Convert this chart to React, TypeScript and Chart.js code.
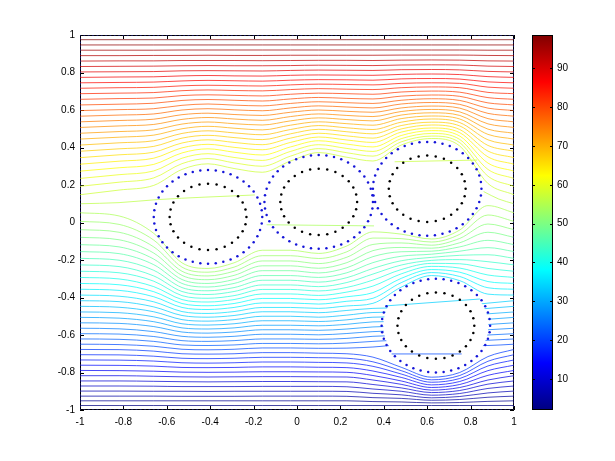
import React, { useEffect, useRef } from "react";
import { Chart, registerables } from "chart.js";
Chart.register(...registerables);

const FONT = '"Liberation Sans", Arial, Helvetica, sans-serif';

// x positions (data units) at which every streamline is sampled
const xColumns = [-1, -0.82, -0.66, -0.53, -0.41, -0.29, -0.16, -0.03, 0.1, 0.23, 0.35, 0.48, 0.62, 0.75, 0.88, 1];

// streamlines passing above the cylinders (top to bottom)
const upperLines = [
  [0.975,0.975,0.975,0.975,0.975,0.975,0.975,0.975,0.975,0.975,0.975,0.975,0.975,0.975,0.975,0.975],
  [0.947,0.947,0.947,0.947,0.947,0.947,0.947,0.947,0.947,0.947,0.947,0.947,0.947,0.947,0.947,0.947],
  [0.919,0.919,0.919,0.920,0.920,0.920,0.920,0.920,0.920,0.920,0.920,0.920,0.920,0.920,0.919,0.919],
  [0.890,0.890,0.891,0.891,0.892,0.891,0.891,0.892,0.892,0.892,0.892,0.893,0.893,0.893,0.891,0.890],
  [0.861,0.862,0.862,0.864,0.864,0.864,0.863,0.864,0.865,0.865,0.864,0.866,0.867,0.866,0.862,0.861],
  [0.832,0.833,0.834,0.836,0.837,0.836,0.836,0.837,0.839,0.838,0.837,0.840,0.841,0.840,0.834,0.832],
  [0.803,0.804,0.805,0.809,0.810,0.809,0.808,0.811,0.813,0.812,0.811,0.815,0.816,0.814,0.806,0.803],
  [0.774,0.776,0.777,0.782,0.784,0.782,0.781,0.785,0.787,0.786,0.785,0.790,0.792,0.789,0.778,0.774],
  [0.745,0.747,0.749,0.755,0.758,0.756,0.754,0.759,0.762,0.761,0.759,0.766,0.768,0.765,0.750,0.745],
  [0.716,0.719,0.721,0.729,0.732,0.730,0.728,0.734,0.738,0.736,0.734,0.742,0.745,0.742,0.722,0.716],
  [0.687,0.690,0.693,0.703,0.707,0.704,0.702,0.709,0.714,0.711,0.709,0.719,0.723,0.719,0.694,0.687],
  [0.657,0.661,0.664,0.677,0.681,0.678,0.675,0.684,0.690,0.687,0.684,0.696,0.701,0.695,0.666,0.657],
  [0.627,0.631,0.636,0.651,0.656,0.652,0.648,0.659,0.667,0.662,0.659,0.674,0.680,0.673,0.638,0.627],
  [0.597,0.602,0.607,0.625,0.632,0.626,0.622,0.635,0.644,0.639,0.635,0.652,0.660,0.651,0.610,0.597],
  [0.567,0.573,0.579,0.600,0.607,0.601,0.596,0.611,0.622,0.616,0.611,0.632,0.640,0.630,0.582,0.567],
  [0.537,0.544,0.551,0.575,0.583,0.576,0.571,0.588,0.600,0.593,0.588,0.611,0.621,0.610,0.554,0.537],
  [0.507,0.515,0.523,0.550,0.560,0.552,0.545,0.565,0.579,0.571,0.565,0.592,0.603,0.590,0.526,0.507],
  [0.476,0.485,0.494,0.525,0.536,0.527,0.520,0.542,0.558,0.549,0.542,0.573,0.585,0.571,0.498,0.476],
  [0.445,0.455,0.466,0.500,0.513,0.503,0.494,0.519,0.537,0.527,0.519,0.554,0.568,0.552,0.470,0.445],
  [0.413,0.425,0.436,0.475,0.489,0.478,0.468,0.496,0.517,0.505,0.496,0.535,0.552,0.533,0.441,0.413],
  [0.380,0.393,0.406,0.450,0.465,0.453,0.442,0.473,0.497,0.484,0.473,0.517,0.535,0.515,0.411,0.380],
  [0.346,0.361,0.375,0.424,0.441,0.427,0.415,0.450,0.476,0.462,0.450,0.499,0.520,0.496,0.381,0.346],
  [0.311,0.327,0.343,0.398,0.417,0.401,0.388,0.427,0.456,0.440,0.427,0.482,0.504,0.479,0.350,0.311],
  [0.274,0.292,0.310,0.371,0.393,0.375,0.360,0.403,0.436,0.418,0.403,0.464,0.490,0.461,0.317,0.274],
  [0.235,0.255,0.275,0.343,0.367,0.347,0.331,0.379,0.415,0.395,0.379,0.447,0.475,0.443,0.283,0.235],
  [0.193,0.215,0.238,0.314,0.341,0.318,0.300,0.354,0.394,0.372,0.354,0.430,0.461,0.426,0.247,0.193],
  [0.148,0.173,0.198,0.283,0.313,0.288,0.268,0.328,0.373,0.348,0.328,0.413,0.448,0.408,0.208,0.148],
];
const upperLevels = [98.6,97.0,95.4,93.9,92.3,90.7,89.1,87.5,86.0,84.4,82.8,81.2,79.6,78.0,76.5,74.9,73.3,71.7,70.1,68.5,67.0,65.4,63.8,62.2,60.6,59.0,57.5];

// dividing streamline: runs into the first cylinder, reappears behind the last one
const dividerX = [-1, -0.82, -0.645, -0.194];
const dividerY = [0.100, 0.106, 0.122, 0.147];
const wakeX = [0.86, 0.93, 1];
const wakeY = [0.165, 0.125, 0.100];
const dividerLevel = 55.9;

// streamlines passing below the upper cylinders (top to bottom)
const lowerLines = [
  [0.052,0.035,-0.058,-0.215,-0.245,-0.215,-0.148,-0.148,-0.165,-0.125,-0.050,-0.062,-0.088,-0.040,0.090,0.052],
  [0.006,-0.010,-0.094,-0.238,-0.265,-0.238,-0.177,-0.177,-0.192,-0.156,-0.083,-0.086,-0.104,-0.063,0.040,0.006],
  [-0.038,-0.052,-0.130,-0.260,-0.285,-0.260,-0.205,-0.205,-0.219,-0.185,-0.117,-0.109,-0.121,-0.085,-0.008,-0.038],
  [-0.079,-0.092,-0.163,-0.282,-0.305,-0.282,-0.231,-0.231,-0.244,-0.214,-0.150,-0.133,-0.137,-0.108,-0.052,-0.079],
  [-0.118,-0.130,-0.195,-0.304,-0.325,-0.304,-0.257,-0.257,-0.269,-0.241,-0.182,-0.156,-0.153,-0.130,-0.095,-0.118],
  [-0.155,-0.166,-0.225,-0.325,-0.344,-0.325,-0.283,-0.283,-0.293,-0.268,-0.214,-0.180,-0.169,-0.153,-0.134,-0.155],
  [-0.191,-0.201,-0.255,-0.347,-0.364,-0.347,-0.308,-0.308,-0.318,-0.294,-0.245,-0.204,-0.186,-0.175,-0.172,-0.191],
  [-0.226,-0.235,-0.285,-0.368,-0.384,-0.368,-0.333,-0.333,-0.342,-0.320,-0.275,-0.227,-0.202,-0.198,-0.209,-0.226],
  [-0.260,-0.268,-0.313,-0.390,-0.404,-0.390,-0.357,-0.357,-0.365,-0.346,-0.307,-0.251,-0.218,-0.220,-0.245,-0.260],
  [-0.293,-0.301,-0.342,-0.411,-0.424,-0.411,-0.381,-0.381,-0.389,-0.371,-0.339,-0.274,-0.234,-0.243,-0.280,-0.293],
  [-0.325,-0.332,-0.369,-0.432,-0.444,-0.432,-0.405,-0.405,-0.412,-0.396,-0.374,-0.298,-0.251,-0.265,-0.315,-0.325],
  [-0.356,-0.362,-0.396,-0.453,-0.464,-0.453,-0.429,-0.429,-0.435,-0.420,-0.404,-0.321,-0.267,-0.288,-0.348,-0.356],
  [-0.387,-0.393,-0.423,-0.475,-0.485,-0.475,-0.453,-0.453,-0.458,-0.445,-0.431,-0.345,-0.283,-0.310,-0.382,-0.387],
  [-0.417,-0.422,-0.450,-0.496,-0.505,-0.496,-0.476,-0.476,-0.481,-0.469,-0.458,-0.455,-0.450,-0.445,-0.430,-0.417],
  [-0.447,-0.452,-0.476,-0.518,-0.526,-0.518,-0.500,-0.500,-0.505,-0.494,-0.480,-0.478,-0.475,-0.470,-0.458,-0.447],
  [-0.477,-0.481,-0.503,-0.540,-0.547,-0.540,-0.524,-0.524,-0.528,-0.519,-0.505,-0.503,-0.500,-0.497,-0.487,-0.477],
  [-0.506,-0.510,-0.529,-0.562,-0.568,-0.562,-0.548,-0.548,-0.551,-0.543,-0.530,-0.528,-0.526,-0.524,-0.516,-0.506],
  [-0.535,-0.538,-0.555,-0.584,-0.590,-0.584,-0.572,-0.572,-0.575,-0.568,-0.557,-0.553,-0.552,-0.550,-0.544,-0.535],
  [-0.564,-0.567,-0.582,-0.607,-0.612,-0.607,-0.596,-0.596,-0.599,-0.592,-0.582,-0.578,-0.578,-0.577,-0.572,-0.564],
  [-0.593,-0.595,-0.608,-0.630,-0.634,-0.630,-0.621,-0.621,-0.623,-0.618,-0.607,-0.603,-0.604,-0.604,-0.600,-0.593],
  [-0.621,-0.623,-0.634,-0.653,-0.656,-0.653,-0.645,-0.645,-0.647,-0.643,-0.634,-0.628,-0.630,-0.630,-0.628,-0.621],
  [-0.649,-0.651,-0.660,-0.676,-0.679,-0.676,-0.669,-0.669,-0.671,-0.670,-0.664,-0.653,-0.656,-0.657,-0.656,-0.649],
  [-0.677,-0.678,-0.686,-0.700,-0.702,-0.700,-0.694,-0.694,-0.697,-0.700,-0.718,-0.772,-0.825,-0.800,-0.715,-0.677],
  [-0.705,-0.706,-0.713,-0.724,-0.726,-0.724,-0.719,-0.719,-0.721,-0.724,-0.743,-0.790,-0.839,-0.816,-0.740,-0.705],
  [-0.733,-0.734,-0.739,-0.748,-0.750,-0.748,-0.744,-0.744,-0.746,-0.749,-0.767,-0.808,-0.852,-0.832,-0.765,-0.733],
  [-0.761,-0.762,-0.766,-0.773,-0.774,-0.773,-0.770,-0.770,-0.772,-0.774,-0.792,-0.826,-0.866,-0.848,-0.790,-0.761],
  [-0.789,-0.790,-0.793,-0.798,-0.799,-0.798,-0.796,-0.796,-0.797,-0.799,-0.816,-0.845,-0.880,-0.864,-0.815,-0.789],
  [-0.817,-0.817,-0.820,-0.823,-0.824,-0.823,-0.822,-0.822,-0.823,-0.824,-0.840,-0.863,-0.894,-0.880,-0.840,-0.817],
  [-0.845,-0.845,-0.847,-0.849,-0.850,-0.849,-0.848,-0.848,-0.849,-0.850,-0.864,-0.882,-0.907,-0.896,-0.862,-0.845],
  [-0.872,-0.872,-0.873,-0.875,-0.875,-0.875,-0.874,-0.874,-0.874,-0.876,-0.888,-0.900,-0.921,-0.912,-0.885,-0.872],
  [-0.899,-0.899,-0.900,-0.900,-0.901,-0.900,-0.900,-0.900,-0.900,-0.901,-0.911,-0.919,-0.935,-0.928,-0.909,-0.899],
  [-0.926,-0.926,-0.926,-0.927,-0.927,-0.927,-0.926,-0.926,-0.926,-0.927,-0.934,-0.938,-0.948,-0.944,-0.932,-0.926],
  [-0.951,-0.951,-0.951,-0.951,-0.951,-0.951,-0.951,-0.951,-0.951,-0.951,-0.955,-0.957,-0.962,-0.960,-0.954,-0.951],
  [-0.976,-0.976,-0.976,-0.976,-0.976,-0.976,-0.976,-0.976,-0.976,-0.976,-0.976,-0.976,-0.976,-0.976,-0.976,-0.976],
];
const lowerLevels = [54.3,52.7,51.1,49.6,48.0,46.4,44.8,43.2,41.6,40.1,38.5,36.9,35.3,33.7,32.1,30.6,29.0,27.4,25.8,24.2,22.7,21.1,19.5,17.9,16.3,14.7,13.2,11.6,10.0,8.4,6.8,5.3,3.7,2.1];

// short contour pieces crossing the inside of the cylinders
const chordX = [[-0.14, 0.355], [0.45, 0.83], [0.406, 0.843], [0.436, 0.759]];
const chordY = [[-0.012, -0.018], [0.324, 0.333], [-0.445, -0.408], [-0.701, -0.701]];
const chordLevels = [54.0, 57.0, 33.7, 21.1];

// cylinders: centres, outer (blue) and inner (black) dotted rings
const cylinderX = [-0.41, 0.10, 0.60, 0.64];
const cylinderY = [0.03, 0.11, 0.18, -0.55];
const outerRadius = 0.25;
const innerRadius = 0.177;
const maskRadius = 0.242;
const outerDotCount = 44;
const innerDotCount = 28;
const boundaryDotCount = 101;

const axisTicks = [-1, -0.8, -0.6, -0.4, -0.2, 0, 0.2, 0.4, 0.6, 0.8, 1];
const colorbarTicks = [10, 20, 30, 40, 50, 60, 70, 80, 90];
const colorMin = 2.0;
const colorMax = 98.6;

function clamp01(v: number) {
  return Math.max(0, Math.min(1, v));
}
function jetRGB(t: number): [number, number, number] {
  const r = clamp01(1.5 - Math.abs(4 * t - 3));
  const g = clamp01(1.5 - Math.abs(4 * t - 2));
  const b = clamp01(1.5 - Math.abs(4 * t - 1));
  return [Math.round(r * 255), Math.round(g * 255), Math.round(b * 255)];
}
function levelColor(level: number, alpha: number) {
  const t = clamp01((level - colorMin) / (colorMax - colorMin));
  const [r, g, b] = jetRGB(t);
  return `rgba(${r},${g},${b},${alpha})`;
}

function ringPoints(cx: number, cy: number, r: number, n: number) {
  const pts: { x: number; y: number }[] = [];
  for (let i = 0; i < n; i++) {
    const a = (2 * Math.PI * i) / n;
    pts.push({ x: cx + r * Math.cos(a), y: cy + r * Math.sin(a) });
  }
  return pts;
}

const LINE_ALPHA = 0.72;

function streamDataset(xs: number[], ys: number[], level: number, order: number) {
  return {
    data: xs.map((x, i) => ({ x, y: ys[i] })),
    showLine: true,
    borderColor: levelColor(level, LINE_ALPHA),
    borderWidth: 1,
    pointRadius: 0,
    pointHoverRadius: 0,
    cubicInterpolationMode: "monotone" as const,
    fill: false,
    order,
  };
}

const frame = {
  id: "frame",
  beforeDatasetsDraw(chart: any) {
    chart.$maskDone = false;
    const { ctx, chartArea: a, scales } = chart;
    ctx.save();
    ctx.strokeStyle = "#000";
    ctx.lineWidth = 1;
    ctx.strokeRect(a.left + 0.5, a.top + 0.5, a.right - a.left - 1, a.bottom - a.top - 1);
    const len = 4;
    ctx.beginPath();
    for (const v of axisTicks) {
      const px = Math.round(scales.x.getPixelForValue(v)) + 0.5;
      ctx.moveTo(px, a.bottom);
      ctx.lineTo(px, a.bottom - len);
      ctx.moveTo(px, a.top);
      ctx.lineTo(px, a.top + len);
      const py = Math.round(scales.y.getPixelForValue(v)) + 0.5;
      ctx.moveTo(a.left, py);
      ctx.lineTo(a.left + len, py);
      ctx.moveTo(a.right, py);
      ctx.lineTo(a.right - len, py);
    }
    ctx.stroke();
    ctx.restore();
  },
  // blank out the inside of the cylinders before the overlay marks are drawn
  beforeDatasetDraw(chart: any, args: any) {
    if (chart.$maskDone) return;
    const ds = chart.data.datasets[args.index];
    if ((ds.order ?? 0) >= 3) return;
    chart.$maskDone = true;
    const { ctx, chartArea: a, scales } = chart;
    ctx.save();
    ctx.beginPath();
    ctx.rect(a.left, a.top, a.right - a.left, a.bottom - a.top);
    ctx.clip();
    ctx.fillStyle = "#ffffff";
    cylinderX.forEach((cx, i) => {
      const px = scales.x.getPixelForValue(cx);
      const py = scales.y.getPixelForValue(cylinderY[i]);
      const rx = Math.abs(scales.x.getPixelForValue(cx + maskRadius) - px);
      const ry = Math.abs(scales.y.getPixelForValue(cylinderY[i] + maskRadius) - py);
      ctx.beginPath();
      ctx.ellipse(px, py, rx, ry, 0, 0, Math.PI * 2);
      ctx.fill();
    });
    ctx.restore();
  },
};

const colorbarPaint = {
  id: "colorbarPaint",
  beforeDatasetsDraw(chart: any) {
    const { ctx, chartArea: a, scales } = chart;
    ctx.save();
    const g = ctx.createLinearGradient(0, a.bottom, 0, a.top);
    const stops = [0, 0.125, 0.375, 0.625, 0.875, 1];
    for (const s of stops) {
      const [r, gg, b] = jetRGB(s);
      g.addColorStop(s, `rgb(${r},${gg},${b})`);
    }
    ctx.fillStyle = g;
    ctx.fillRect(a.left, a.top, a.right - a.left, a.bottom - a.top);
    ctx.strokeStyle = "#000";
    ctx.lineWidth = 1;
    ctx.strokeRect(a.left + 0.5, a.top + 0.5, a.right - a.left - 1, a.bottom - a.top - 1);
    ctx.beginPath();
    for (const v of colorbarTicks) {
      const py = Math.round(scales.y.getPixelForValue(v)) + 0.5;
      ctx.moveTo(a.left, py);
      ctx.lineTo(a.left + 3, py);
      ctx.moveTo(a.right, py);
      ctx.lineTo(a.right - 3, py);
    }
    ctx.stroke();
    ctx.restore();
  },
};

export default function App() {
  const mainRef = useRef<HTMLCanvasElement>(null);
  const barRef = useRef<HTMLCanvasElement>(null);

  useEffect(() => {
    if (!mainRef.current || !barRef.current) return;

    const datasets: any[] = [];
    upperLines.forEach((ys, i) => datasets.push(streamDataset(xColumns, ys, upperLevels[i], 3)));
    lowerLines.forEach((ys, i) => datasets.push(streamDataset(xColumns, ys, lowerLevels[i], 3)));
    datasets.push(streamDataset(wakeX, wakeY, dividerLevel, 3));
    datasets.push(streamDataset(dividerX, dividerY, dividerLevel, 1));
    chordX.forEach((xs, i) => datasets.push(streamDataset(xs, chordY[i], chordLevels[i], 1)));

    const outerPts: { x: number; y: number }[] = [];
    const innerPts: { x: number; y: number }[] = [];
    cylinderX.forEach((cx, i) => {
      outerPts.push(...ringPoints(cx, cylinderY[i], outerRadius, outerDotCount));
      innerPts.push(...ringPoints(cx, cylinderY[i], innerRadius, innerDotCount));
    });
    datasets.push({
      data: outerPts,
      showLine: false,
      pointRadius: 1.25,
      pointBackgroundColor: "#1515d8",
      pointBorderWidth: 0,
      order: 0,
    });
    datasets.push({
      data: innerPts,
      showLine: false,
      pointRadius: 1.25,
      pointBackgroundColor: "#000000",
      pointBorderWidth: 0,
      order: 0,
    });

    const boundary: { x: number; y: number }[] = [];
    for (let i = 0; i < boundaryDotCount; i++) {
      const s = -1 + (2 * i) / (boundaryDotCount - 1);
      boundary.push({ x: s, y: -1 }, { x: s, y: 1 }, { x: -1, y: s }, { x: 1, y: s });
    }
    datasets.push({
      data: boundary,
      showLine: false,
      pointRadius: 1.1,
      pointBackgroundColor: "#141460",
      pointBorderWidth: 0,
      order: 0,
    });

    const tickFont = { family: FONT, size: 10 };

    const main = new Chart(mainRef.current, {
      type: "scatter",
      data: { datasets },
      options: {
        responsive: false,
        animation: false,
        devicePixelRatio: 1,
        layout: { padding: { left: 0, top: 35, right: 101, bottom: 0 } },
        plugins: { legend: { display: false }, tooltip: { enabled: false } },
        events: [],
        scales: {
          x: {
            type: "linear",
            min: -1,
            max: 1,
            grid: { display: false, drawTicks: false },
            border: { display: false },
            ticks: {
              font: tickFont,
              color: "#000",
              padding: 6,
              maxRotation: 0,
              autoSkip: false,
              callback: (v: any) => String(v),
            },
            afterBuildTicks: (s: any) => {
              s.ticks = axisTicks.map((v) => ({ value: v }));
            },
            afterFit: (s: any) => {
              s.height = 51;
            },
          },
          y: {
            type: "linear",
            min: -1,
            max: 1,
            grid: { display: false, drawTicks: false },
            border: { display: false },
            ticks: {
              font: tickFont,
              color: "#000",
              padding: 5,
              autoSkip: false,
              callback: (v: any) => String(v),
            },
            afterBuildTicks: (s: any) => {
              s.ticks = axisTicks.map((v) => ({ value: v }));
            },
            afterFit: (s: any) => {
              s.width = 80;
            },
          },
        },
      } as any,
      plugins: [frame],
    });

    const bar = new Chart(barRef.current, {
      type: "scatter",
      data: { datasets: [] },
      options: {
        responsive: false,
        animation: false,
        devicePixelRatio: 1,
        events: [],
        layout: { padding: { left: 532, top: 35, right: 0, bottom: 51 } },
        plugins: { legend: { display: false }, tooltip: { enabled: false } },
        scales: {
          x: { type: "linear", display: false, min: 0, max: 1 },
          y: {
            type: "linear",
            position: "right",
            min: colorMin,
            max: colorMax,
            grid: { display: false, drawTicks: false },
            border: { display: false },
            ticks: {
              font: tickFont,
              color: "#000",
              padding: 4,
              autoSkip: false,
              callback: (v: any) => String(v),
            },
            afterBuildTicks: (s: any) => {
              s.ticks = colorbarTicks.map((v) => ({ value: v }));
            },
            afterFit: (s: any) => {
              s.width = 62;
            },
          },
        },
      } as any,
      plugins: [colorbarPaint],
    });

    return () => {
      main.destroy();
      bar.destroy();
    };
  }, []);

  return (
    <div style={{ position: "absolute", left: 0, top: 0, width: 615, height: 461, background: "#fff" }}>
      <canvas ref={mainRef} width={615} height={461} style={{ position: "absolute", left: 0, top: 0 }} />
      <canvas ref={barRef} width={615} height={461} style={{ position: "absolute", left: 0, top: 0 }} />
    </div>
  );
}
